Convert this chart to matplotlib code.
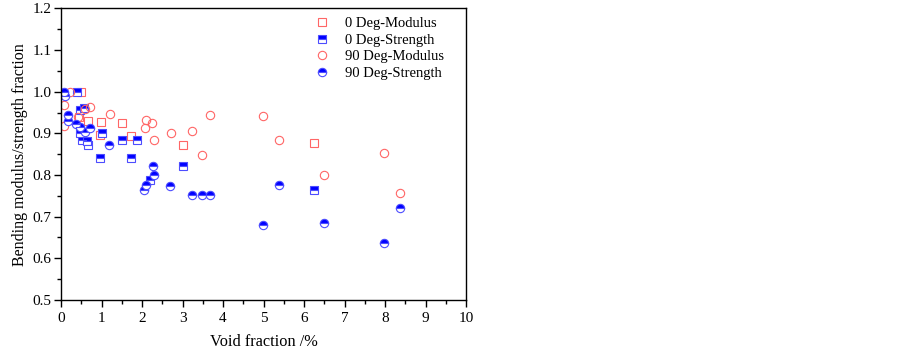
import matplotlib
matplotlib.use("Agg")
import matplotlib.pyplot as plt
from matplotlib.ticker import MultipleLocator

plt.rcParams['font.family'] = ['Liberation Serif', 'DejaVu Serif']

# 0 Deg - Modulus (open red squares)
mod0_x = [0.50, 0.67, 0.98, 1.50, 1.72, 0.95, 3.00, 6.25, 0.45]
mod0_y = [1.000, 0.929, 0.928, 0.925, 0.893, 0.896, 0.872, 0.878, 0.940]

# 0 Deg - Strength (half-filled blue squares)
str0_x = [0.40, 0.46, 0.57, 0.47, 0.51, 0.65, 0.67, 1.00, 1.50, 1.88,
          0.95, 1.72, 2.20, 3.00, 6.25]
str0_y = [1.000, 0.956, 0.960, 0.900, 0.885, 0.882, 0.873, 0.902, 0.885, 0.885,
          0.842, 0.842, 0.787, 0.822, 0.765]

# 90 Deg - Modulus (open red circles)
mod90_x = [0.21, 0.07, 0.07, 0.58, 0.72, 0.42, 1.20, 2.09, 2.25, 2.07,
           3.69, 2.71, 3.23, 2.30, 3.49, 4.99, 5.37, 6.49, 7.98, 8.36]
mod90_y = [1.000, 0.968, 0.918, 0.958, 0.964, 0.940, 0.947, 0.933, 0.925, 0.912,
           0.945, 0.901, 0.905, 0.885, 0.849, 0.942, 0.884, 0.801, 0.852, 0.757]

# 90 Deg - Strength (half-filled blue circles)
str90_x = [0.07, 0.09, 0.17, 0.18, 0.38, 0.46, 0.59, 0.71, 1.19, 2.26,
           2.30, 2.09, 2.06, 2.70, 3.23, 3.49, 3.69, 4.99, 5.37, 6.49,
           7.98, 8.36]
str90_y = [1.000, 0.990, 0.945, 0.929, 0.922, 0.916, 0.903, 0.912, 0.872, 0.821,
           0.801, 0.777, 0.765, 0.773, 0.752, 0.751, 0.753, 0.681, 0.776, 0.684,
           0.636, 0.720]

RED = '#ff6666'
BLUE = '#0000ff'
EDGE_BLUE = '#4d4dff'

fig = plt.figure(figsize=(9.03, 3.5), dpi=100)
ax = fig.add_axes([0.0676, 0.143, 0.4485, 0.833])

ax.plot(mod0_x, mod0_y, linestyle='none', marker='s', markersize=5.5,
        markerfacecolor='none', markeredgecolor=RED, markeredgewidth=0.8,
        label='0 Deg-Modulus')
ax.plot(str0_x, str0_y, linestyle='none', marker='s', markersize=5.5,
        fillstyle='top', markerfacecolor=BLUE, markerfacecoloralt='white',
        markeredgecolor=EDGE_BLUE, markeredgewidth=0.8, label='0 Deg-Strength')
ax.plot(mod90_x, mod90_y, linestyle='none', marker='o', markersize=6,
        markerfacecolor='none', markeredgecolor=RED, markeredgewidth=0.8,
        label='90 Deg-Modulus')
ax.plot(str90_x, str90_y, linestyle='none', marker='o', markersize=6,
        fillstyle='top', markerfacecolor=BLUE, markerfacecoloralt='white',
        markeredgecolor=EDGE_BLUE, markeredgewidth=0.8, label='90 Deg-Strength')

ax.set_xlim(0, 10)
ax.set_ylim(0.5, 1.2)
ax.xaxis.set_major_locator(MultipleLocator(1))
ax.xaxis.set_minor_locator(MultipleLocator(0.5))
ax.yaxis.set_major_locator(MultipleLocator(0.1))
ax.yaxis.set_minor_locator(MultipleLocator(0.05))
ax.xaxis.set_major_formatter(matplotlib.ticker.FormatStrFormatter('%d'))
ax.yaxis.set_major_formatter(matplotlib.ticker.FormatStrFormatter('%.1f'))

ax.tick_params(which='major', direction='out', length=5, width=1, labelsize=11)
ax.tick_params(axis='y', which='major', pad=2)
ax.tick_params(which='minor', direction='out', length=3, width=1)
for sp in ax.spines.values():
    sp.set_linewidth(1)

ax.set_xlabel('Void fraction /%', fontsize=11.8, labelpad=7)
ax.set_ylabel('Bending modulus/strength fraction', fontsize=11.5, labelpad=3)

ax.legend(loc='upper right', bbox_to_anchor=(0.977, 1.017), frameon=False,
          fontsize=10.5, handletextpad=0.8, labelspacing=0.25, handlelength=1.5)

fig.savefig('out.png', dpi=100)
